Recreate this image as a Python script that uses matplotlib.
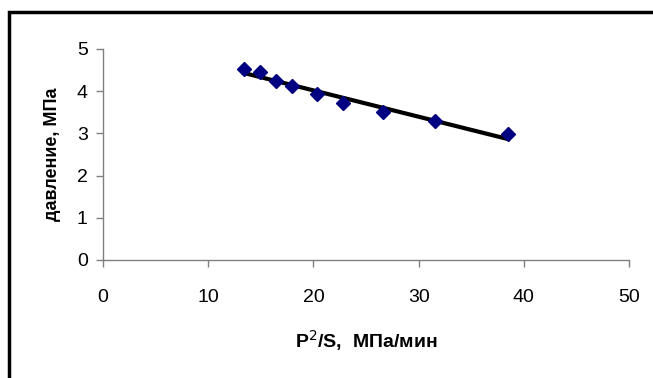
import numpy as np
import matplotlib
matplotlib.use("Agg")
import matplotlib.pyplot as plt
from matplotlib.patches import Rectangle

plt.rcParams['font.family'] = ['Liberation Sans', 'DejaVu Sans']

# data
p2_s = [13.4, 14.9, 16.4, 18.0, 20.3, 22.8, 26.6, 31.6, 38.5]
pressure = [4.52, 4.45, 4.25, 4.12, 3.94, 3.71, 3.50, 3.29, 2.99]
x_ticks = [0, 10, 20, 30, 40, 50]
y_ticks = [0, 1, 2, 3, 4, 5]

W, H = 653, 378
fig = plt.figure(figsize=(W / 100, H / 100), dpi=100)
ax = fig.add_axes([103 / W, (H - 260) / H, (629 - 103) / W, (260 - 49) / H])

# linear trend line over the points
k, b = np.polyfit(p2_s, pressure, 1)
xs = np.array([min(p2_s), max(p2_s)])
ax.plot(xs, k * xs + b, color='black', lw=3, zorder=2)
ax.plot(p2_s, pressure, 'D', color='#000080', ms=7, zorder=3)

ax.set_xlim(0, 50)
ax.set_ylim(0, 5)
ax.set_xticks(x_ticks)
ax.set_yticks(y_ticks)
for s in ['top', 'right']:
    ax.spines[s].set_visible(False)
for s in ['left', 'bottom']:
    ax.spines[s].set_color('#808080')
    ax.spines[s].set_linewidth(1)
ax.tick_params(colors='#808080', length=5, width=1, labelsize=14, labelcolor='black')
ax.tick_params(axis='x', pad=16)
ax.tick_params(axis='y', pad=6)

ax.set_xlabel(r'P$^2$/S,  МПа/мин', fontsize=14, fontweight='bold', labelpad=16)
ax.set_ylabel('давление, МПа', fontsize=13, fontweight='bold', labelpad=11)

# chart border (only top and left edges fall inside the picture)
fig.patches.append(Rectangle((9 / W, -0.1), 1.2, (H - 12) / H + 0.1,
                             transform=fig.transFigure, fill=False,
                             edgecolor='black', lw=2.5))

fig.savefig('out.png', dpi=100)
